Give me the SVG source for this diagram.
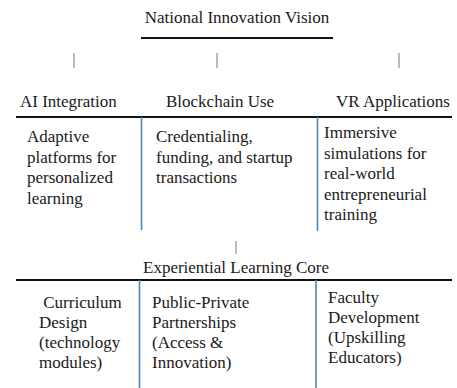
<svg xmlns="http://www.w3.org/2000/svg" width="457" height="388" viewBox="0 0 457 388">
<style>
text{font-family:"Liberation Serif","Times New Roman",serif;font-size:17px;fill:#1a1a1a}
.rule{stroke:#111;stroke-width:2.2}
.col{stroke:#4f87ad;stroke-width:1.6}
.tick{stroke:#777;stroke-width:1}
</style>
<rect width="457" height="388" fill="#fff"/>
<g id="connectors">
<line class="tick" x1="74" y1="53" x2="74" y2="68"/>
<line class="tick" x1="217" y1="53" x2="217" y2="68"/>
<line class="tick" x1="399" y1="53" x2="399" y2="68"/>
<line class="tick" x1="236" y1="241" x2="236" y2="254"/>
</g>
<g id="vision">
<text x="237" y="23" text-anchor="middle">National Innovation Vision</text>
<line class="rule" x1="141" y1="38" x2="333" y2="38"/>
</g>
<g id="pillars">
<line class="rule" x1="16" y1="117" x2="452" y2="117"/>
<line class="col" x1="141.5" y1="117" x2="141.5" y2="230"/>
<line class="col" x1="317.5" y1="117" x2="317.5" y2="231"/>
</g>
<g id="ai">
<text x="20" y="107">AI Integration</text>
<text x="27" y="142">Adaptive</text>
<text x="27" y="162.5">platforms for</text>
<text x="27" y="183">personalized</text>
<text x="27" y="203.5">learning</text>
</g>
<g id="blockchain">
<text x="166" y="107">Blockchain Use</text>
<text x="156" y="142">Credentialing,</text>
<text x="156" y="162.5">funding, and startup</text>
<text x="156" y="183">transactions</text>
</g>
<g id="vr">
<text x="336" y="107">VR Applications</text>
<text x="324" y="138">Immersive</text>
<text x="324" y="158.5">simulations for</text>
<text x="324" y="179">real-world</text>
<text x="324" y="199.5">entrepreneurial</text>
<text x="324" y="220">training</text>
</g>
<g id="core">
<text x="236" y="273" text-anchor="middle">Experiential Learning Core</text>
<line class="rule" x1="16" y1="280" x2="452" y2="280"/>
<line class="col" x1="139.5" y1="280" x2="139.5" y2="388"/>
<line class="col" x1="316" y1="280" x2="316" y2="388"/>
</g>
<g id="curriculum">
<text x="39" y="308" xml:space="preserve"> Curriculum</text>
<text x="39" y="328">Design</text>
<text x="39" y="348">(technology</text>
<text x="39" y="368">modules)</text>
</g>
<g id="partnerships">
<text x="152" y="308">Public-Private</text>
<text x="152" y="328">Partnerships</text>
<text x="152" y="348">(Access &amp;</text>
<text x="152" y="368">Innovation)</text>
</g>
<g id="faculty">
<text x="328" y="303">Faculty</text>
<text x="328" y="323">Development</text>
<text x="328" y="343">(Upskilling</text>
<text x="328" y="363">Educators)</text>
</g>
</svg>
